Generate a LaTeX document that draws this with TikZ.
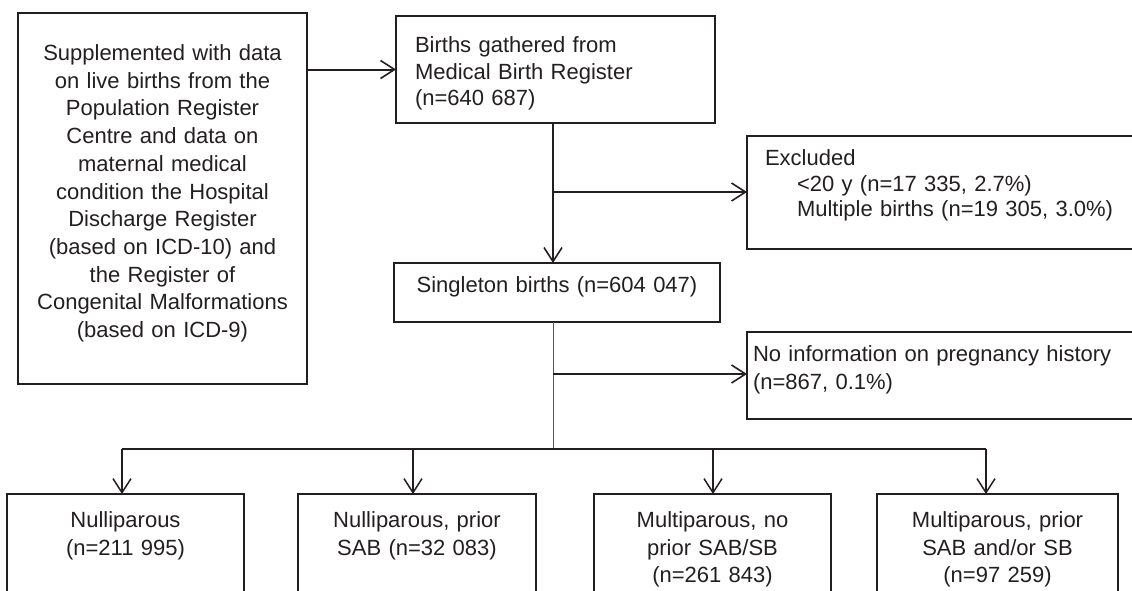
\documentclass[tikz,border=0pt]{standalone}
\usepackage{fontspec}
\setmainfont{Liberation Sans}
\usetikzlibrary{arrows.meta}
\definecolor{ink}{HTML}{231F20}
\begin{document}
\begin{tikzpicture}[x=1pt,y=-1pt,
  box/.style={draw=ink, line width=2pt, inner ysep=0pt, outer sep=0pt,
    anchor=north west, text=ink, font=\fontsize{22pt}{27.5pt}\selectfont},
  arr/.style={draw=ink, line width=2pt,
    -{Straight Barb[length=14pt,width=18pt,line width=1.6pt]}},
  barr/.style={draw=ink, line width=1.6pt,
    -{Straight Barb[length=14pt,width=18pt,line width=1.5pt]}},
  bar/.style={draw=ink, line width=1.6pt},
  thinline/.style={draw=ink!75, line width=1pt}]
\useasboundingbox (0,0) rectangle (1132,590);
\clip (0,0) rectangle (1132,590);

\node[box, text width=269pt, inner xsep=10pt, align=center,
  font=\fontsize{22pt}{27.7pt}\selectfont,
  text height=47.5pt, text depth=323.5pt] (src) at (18,13)
  {Supplemented with data\\ on live births from the\\ Population Register\\
   Centre and data on\\ maternal medical\\ condition the Hospital\\
   Discharge Register\\ (based on ICD-10) and\\ the Register of\\
   Congenital Malformations\\ (based on ICD-9)};

\node[box, text width=281pt, inner xsep=19pt, align=left,
  font=\fontsize{22pt}{26.5pt}\selectfont,
  text height=36.5pt, text depth=70.5pt] (births) at (396,16)
  {Births gathered from\\ Medical Birth Register\\ (n=640 687)};

\node[box, text width=384pt, inner xsep=18pt, align=left,
  font=\fontsize{22pt}{25.5pt}\selectfont,
  text height=29.5pt, text depth=83.5pt] (excl) at (747,136)
  {Excluded\\ \hspace*{32pt}<20 y (n=17 335, 2.7\%)\\
   \hspace*{32pt}Multiple births (n=19 305, 3.0\%)};

\node[box, text width=306pt, inner xsep=10pt, align=center,
  text height=29.5pt, text depth=29.5pt] (sing) at (394,263)
  {Singleton births (n=604 047)};

\node[box, text width=408pt, inner xsep=6pt, align=left,
  font=\fontsize{22pt}{28pt}\selectfont,
  text height=29.5pt, text depth=57.5pt] (noinfo) at (747,332)
  {No information on pregnancy history\\ (n=867, 0.1\%)};

\tikzset{bot/.style={box, inner xsep=5pt, align=center,
  font=\fontsize{22pt}{27.5pt}\selectfont,
  text height=33.5pt, text depth=110pt}}
\node[bot, text width=227pt] (g1) at (7,494) {Nulliparous\\ (n=211 995)};
\node[bot, text width=228pt] (g2) at (298,494) {Nulliparous, prior\\ SAB (n=32 083)};
\node[bot, text width=227pt] (g3) at (594,494) {Multiparous, no\\ prior SAB/SB\\ (n=261 843)};
\node[bot, text width=231pt] (g4) at (877,494) {Multiparous, prior\\ SAB and/or SB\\ (n=97 259)};

\coordinate (t) at (553,123);
\coordinate (j1) at (553,192);
\coordinate (j2) at (553,374);
\coordinate (hub) at (553,449);
\coordinate (c1) at (122,449);
\coordinate (c2) at (413,449);
\coordinate (c3) at (713,449);
\coordinate (c4) at (986,449);

\draw[arr] (src.east |- births.west) -- (births.west);
\draw[arr] (births.south -| t) -- (sing.north -| t);
\draw[arr] (j1) -- (j1 -| excl.west);
\draw[thinline] (sing.south -| t) -- (hub);
\draw[arr] (j2) -- (j2 -| noinfo.west);
\draw[bar] (c1) -- (c4);
\draw[barr] (c1) -- (c1 |- g1.north);
\draw[barr] (c2) -- (c2 |- g2.north);
\draw[barr] (c3) -- (c3 |- g3.north);
\draw[barr] (c4) -- (c4 |- g4.north);
\end{tikzpicture}
\end{document}
